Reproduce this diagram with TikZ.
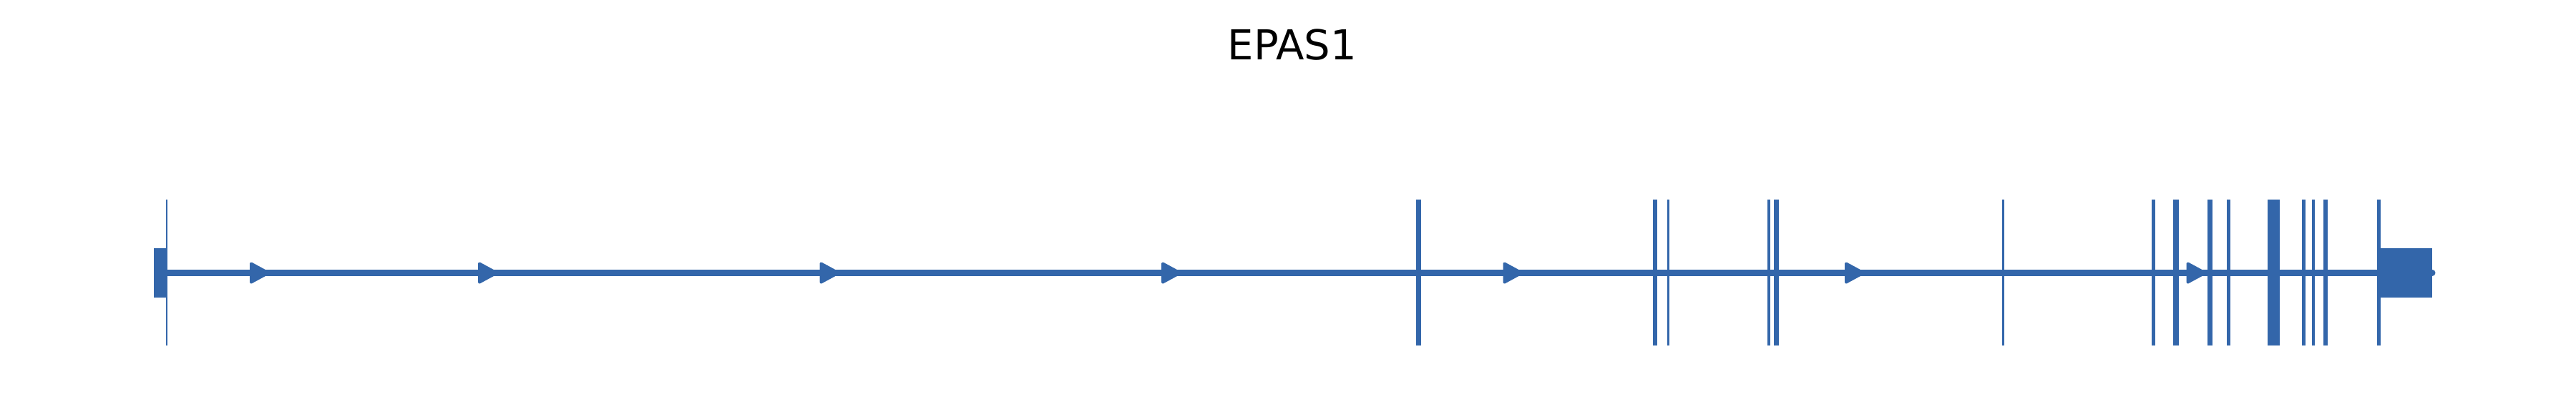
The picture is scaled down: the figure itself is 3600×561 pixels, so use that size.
\documentclass[tikz,border=0pt]{standalone}
\usepackage{fontspec}
\setmainfont{DejaVu Sans}
\usepackage{xcolor}
\usepackage{tikz}
\usetikzlibrary{arrows.meta,positioning}
\definecolor{genecol}{RGB}{51,102,170}
\tikzset{
  utr/.style={draw=none, fill=genecol, inner sep=0pt, minimum height=6.9mm},
  exonbar/.style={fill=genecol},
  intron/.style={draw=genecol, line width=0.9mm, line cap=round},
  strandmark/.style={draw=genecol, fill=genecol, line width=0.4mm, line join=round},
  gtitle/.style={font=\fontsize{16.4}{20}\selectfont, inner sep=0pt, anchor=base},
}
\begin{document}
\begin{tikzpicture}[x=0.1mm, y=-0.1mm]
\useasboundingbox (0,0) rectangle (3600,561);
\node[gtitle] (title) at (1806,83) {EPAS1};
% UTR boxes at both ends
\node[utr, minimum width=1.8mm] (utr5) at (224,381.5) {};
\node[utr, minimum width=7.76mm] (utr3) at (3360.5,381.5) {};
\coordinate (tes) at (3399,381.5);
\draw[intron] (utr5.east) -- (tes);
% strand arrows
\foreach \x in {349,668,1145.5,1623,2100.5,2578,3055.5}
  \filldraw[strandmark] (\x+2,368.5) -- (\x+26,381.5) -- (\x+2,394.5) -- cycle;
% exons
\fill[exonbar] (232.3,279) rectangle (233.8,483);
\foreach \a/\b in {1979/1986,2310/2316,2330/2333,2470/2474,2479/2486,2798/2801,
  3007/3012,3037/3045,3085/3092,3112/3117,3168.7/3185.7,3217/3222,3231/3235,
  3247/3253,3321.5/3326.5}
  \fill[exonbar] (\a,279) rectangle (\b,483);
\end{tikzpicture}
\end{document}
